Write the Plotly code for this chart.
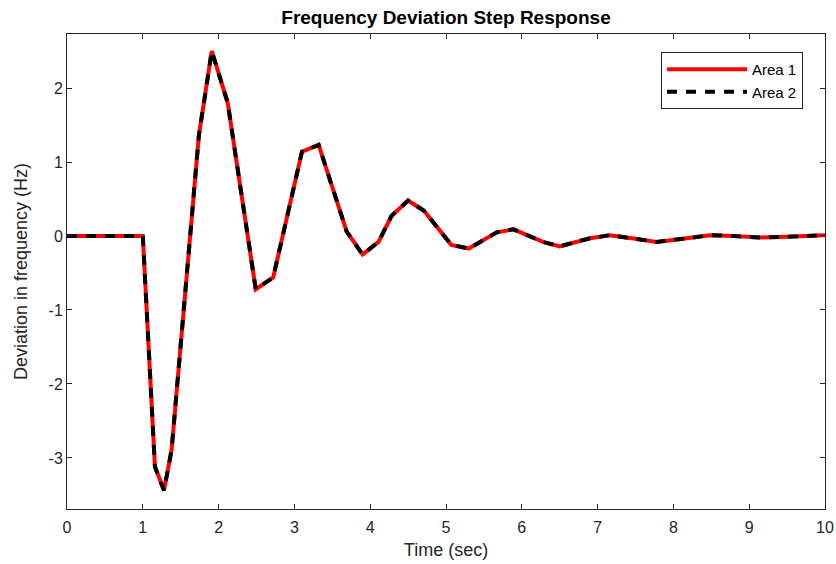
import plotly.graph_objects as go

time_s = [0, 0.5, 1.0, 1.16, 1.28, 1.38, 1.74, 1.91, 2.12, 2.49, 2.72, 3.10, 3.32, 3.69, 3.90,
          4.11, 4.28, 4.50, 4.71, 5.07, 5.30, 5.67, 5.89, 6.28, 6.50, 6.90, 7.16, 7.45, 7.78,
          8.10, 8.48, 8.80, 9.14, 9.50, 10.0]
area1 = [0, 0, 0, -3.12, -3.44, -2.89, 1.36, 2.50, 1.80, -0.72, -0.56, 1.14, 1.23, 0.06, -0.25,
         -0.08, 0.27, 0.48, 0.34, -0.12, -0.17, 0.05, 0.09, -0.08, -0.14, -0.03, 0.01, -0.03, -0.08,
         -0.04, 0.01, 0.0, -0.02, -0.01, 0.01]
area2 = list(area1)

x_ticks = [0, 1, 2, 3, 4, 5, 6, 7, 8, 9, 10]
y_ticks = [-3, -2, -1, 0, 1, 2]
y_tick_text = ["-3", "-2", "-1", "0", "1", "2"]

FONT = "Liberation Sans, Arial"
fig = go.Figure()
fig.add_trace(go.Scatter(x=time_s, y=area1, mode="lines", name="Area 1",
                         line=dict(color="#ff0000", width=4)))
fig.add_trace(go.Scatter(x=time_s, y=area2, mode="lines", name="Area 2",
                         line=dict(color="#000000", width=4, dash="10px,9px")))

axis_common = dict(showline=True, linecolor="#262626", linewidth=1, mirror="ticks",
                   ticks="inside", ticklen=5, tickcolor="#262626", showgrid=False,
                   zeroline=False, automargin=False,
                   tickfont=dict(family=FONT, size=16, color="#262626"))

fig.update_layout(
    width=836, height=564,
    margin=dict(l=67, r=11, t=34, b=55),
    paper_bgcolor="white", plot_bgcolor="white",
    title=dict(text="<b>Frequency Deviation Step Response</b>", x=(67 + 825) / 2 / 836, xanchor="center",
               y=1 - 17 / 564, yanchor="middle",
               font=dict(family=FONT, size=19, color="#000000")),
    xaxis=dict(range=[0, 10], tickvals=x_ticks, ticklabelstandoff=4,
               title=dict(text="Time (sec)", standoff=8,
               font=dict(family=FONT, size=18, color="#262626")), **axis_common),
    yaxis=dict(range=[-3.69, 2.73], tickvals=y_ticks, ticktext=y_tick_text,
               title=dict(text="Deviation in frequency (Hz)", standoff=16,
               font=dict(family=FONT, size=18, color="#262626")), **axis_common),
    legend=dict(x=0.971, y=0.962, xanchor="right", yanchor="top", bgcolor="white",
                bordercolor="#262626", borderwidth=1, itemwidth=80, tracegroupgap=0,
                font=dict(family=FONT, size=15, color="#000000")),
    showlegend=True,
)

fig.write_html("out.html")
